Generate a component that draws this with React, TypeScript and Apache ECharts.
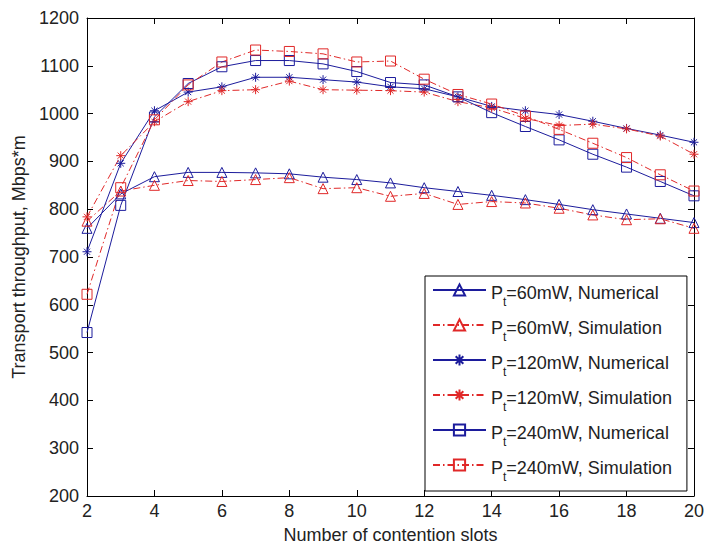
import React, { useEffect, useRef } from "react";
import * as echarts from "echarts";

const slots = [2, 3, 4, 5, 6, 7, 8, 9, 10, 11, 12, 13, 14, 15, 16, 17, 18, 19, 20];
const num60 = [760, 832, 868, 877, 877, 876, 874, 867, 862, 855, 845, 837, 829, 820, 810, 799, 790, 781, 772];
const sim60 = [775, 838, 850, 860, 858, 862, 866, 843, 845, 827, 833, 810, 816, 813, 802, 788, 778, 780, 760];
const num120 = [711, 896, 1006, 1045, 1056, 1076, 1076, 1071, 1066, 1056, 1052, 1035, 1015, 1006, 998, 984, 969, 955, 940];
const sim120 = [784, 912, 983, 1025, 1048, 1050, 1068, 1050, 1049, 1048, 1045, 1025, 1012, 990, 975, 978, 968, 953, 915];
const num240 = [542, 808, 993, 1063, 1098, 1111, 1111, 1104, 1088, 1065, 1060, 1035, 1002, 973, 945, 915, 888, 858, 828];
const sim240 = [622, 845, 987, 1060, 1108, 1133, 1130, 1125, 1108, 1110, 1072, 1040, 1020, 995, 967, 938, 908, 872, 838];

const seriesNames = [
  "60mW, Numerical",
  "60mW, Simulation",
  "120mW, Numerical",
  "120mW, Simulation",
  "240mW, Numerical",
  "240mW, Simulation",
];

const BLUE = "#1c1c9c";
const RED = "#e02828";
const FONT = "'Liberation Sans', Arial, sans-serif";
const STAR = "path://M5,0 L5,10 M0,5 L10,5 M1.6,1.6 L8.4,8.4 M1.6,8.4 L8.4,1.6";

function mk(name: string, values: number[], color: string, sim: boolean, symbol: string, size: number) {
  return {
    name,
    type: "line",
    xAxisIndex: 0,
    yAxisIndex: 0,
    data: slots.map((x, i) => [x, values[i]]),
    symbol,
    symbolSize: size,
    symbolKeepAspect: true,
    showSymbol: true,
    lineStyle: {
      color,
      width: 1,
      type: sim ? [7, 3, 1.5, 3] : "solid",
    },
    itemStyle: {
      color: symbol === STAR ? color : "rgba(255,255,255,0)",
      borderColor: color,
      borderWidth: 1,
    },
    emphasis: { disabled: true },
  };
}

export default function App() {
  const ref = useRef<HTMLDivElement>(null);
  useEffect(() => {
    if (!ref.current) return;
    const chart = echarts.init(ref.current, null, { renderer: "svg" });
    const axisCommon = {
      axisLine: { show: true, lineStyle: { color: "#000", width: 1 } },
      axisTick: { show: true, inside: true, length: 6, lineStyle: { color: "#000" } },
      splitLine: { show: false },
    };
    chart.setOption({
      animation: false,
      backgroundColor: "#fff",
      textStyle: { fontFamily: FONT },
      grid: { left: 87, right: 11, top: 18, bottom: 53, containLabel: false },
      xAxis: [
        {
          type: "value",
          min: 2,
          max: 20,
          interval: 2,
          position: "bottom",
          ...axisCommon,
          axisLabel: { color: "#222", fontSize: 18, fontFamily: FONT, margin: 6, formatter: (v: number) => String(v) },
          name: "Number of contention slots",
          nameLocation: "middle",
          nameGap: 30,
          nameTextStyle: { color: "#222", fontSize: 18, fontFamily: FONT },
        },
        {
          type: "value",
          min: 2,
          max: 20,
          interval: 2,
          position: "top",
          ...axisCommon,
          axisLabel: { show: false },
        },
      ],
      yAxis: [
        {
          type: "value",
          min: 200,
          max: 1200,
          interval: 100,
          position: "left",
          ...axisCommon,
          axisLabel: { color: "#222", fontSize: 18, fontFamily: FONT, margin: 8, formatter: (v: number) => String(v) },
          name: "Transport throughput, Mbps*m",
          nameLocation: "middle",
          nameGap: 56,
          nameTextStyle: { color: "#222", fontSize: 18, fontFamily: FONT },
        },
        {
          type: "value",
          min: 200,
          max: 1200,
          interval: 100,
          position: "right",
          ...axisCommon,
          axisLabel: { show: false },
        },
      ],
      legend: {
        orient: "vertical",
        left: 425,
        top: 276,
        padding: [4, 15, 8, 7],
        itemWidth: 53,
        itemHeight: 14,
        itemGap: 7,
        backgroundColor: "#fff",
        borderColor: "#000",
        borderWidth: 1,
        borderRadius: 0,
        selectedMode: false,
        data: seriesNames,
        formatter: (n: string) => `{p|P}{s|t}{p|=${n}}`,
        textStyle: {
          fontFamily: FONT,
          color: "#222",
          rich: {
            p: { fontSize: 18, lineHeight: 20, padding: [4, 0, 4, 0], verticalAlign: "top", fontFamily: FONT, color: "#222" },
            s: { fontSize: 12, lineHeight: 12, padding: [16, 0, 0, 0], verticalAlign: "top", fontFamily: FONT, color: "#222" },
          },
        },
      },
      series: [
        mk(seriesNames[0], num60, BLUE, false, "triangle", 10),
        mk(seriesNames[1], sim60, RED, true, "triangle", 10),
        mk(seriesNames[2], num120, BLUE, false, STAR, 9),
        mk(seriesNames[3], sim120, RED, true, STAR, 9),
        mk(seriesNames[4], num240, BLUE, false, "rect", 10),
        mk(seriesNames[5], sim240, RED, true, "rect", 10),
      ],
    });
    return () => chart.dispose();
  }, []);
  return (
    <div
      ref={ref}
      style={{ position: "fixed", left: 0, top: 0, width: 707, height: 549, background: "#fff" }}
    />
  );
}
